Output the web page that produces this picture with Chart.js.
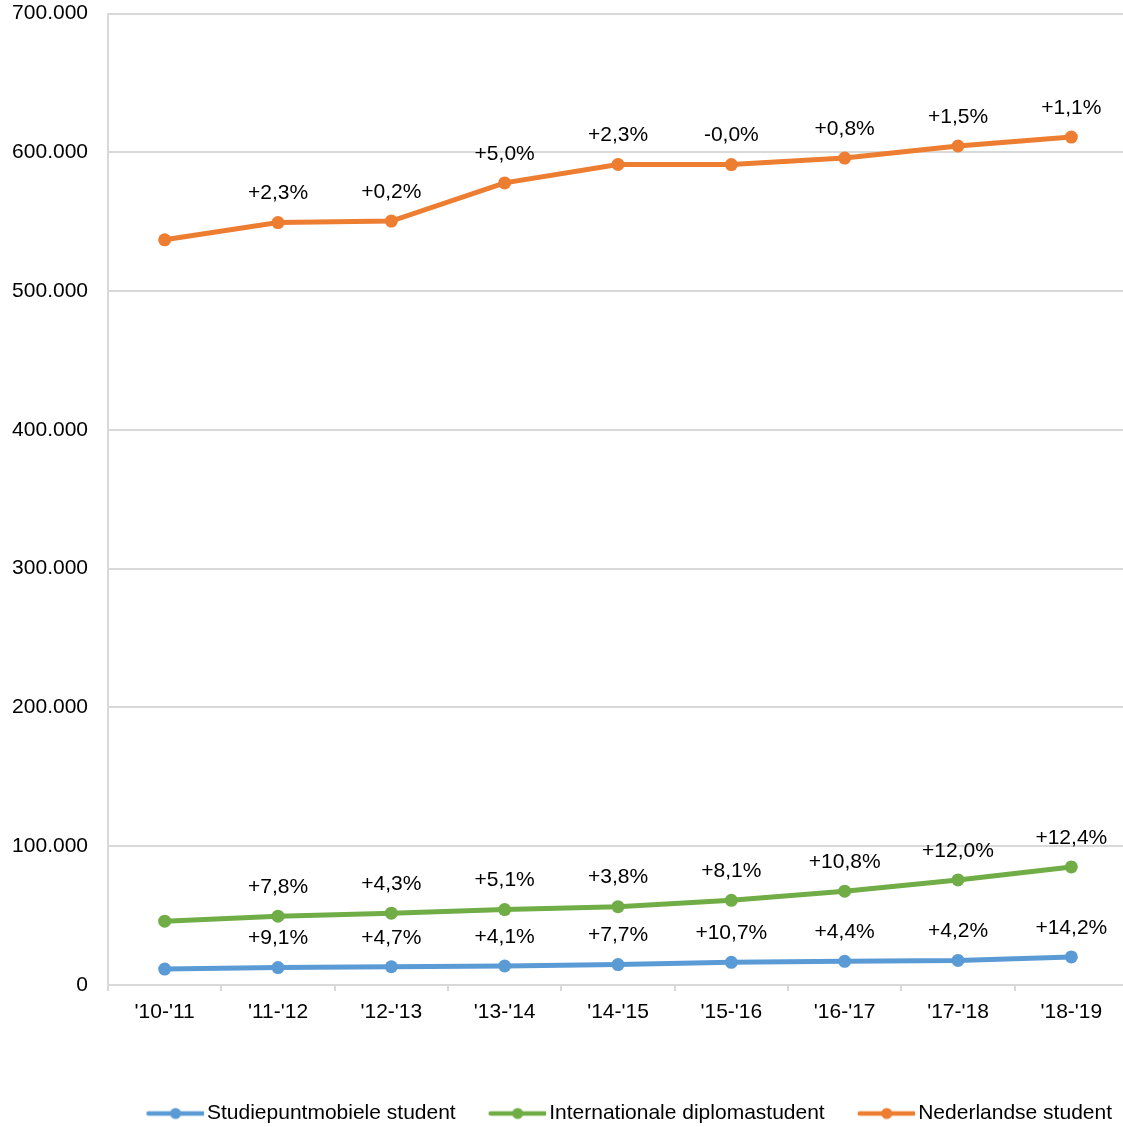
<!DOCTYPE html>
<html>
<head>
<meta charset="utf-8">
<script src="https://cdn.jsdelivr.net/npm/chart.js@4/dist/chart.umd.min.js"></script>
<style>
  html, body { margin: 0; padding: 0; background: #fff; overflow: hidden; }
  .chart-wrap { position: relative; width: 1145px; height: 1134px; }
</style>
</head>
<body>
<div class="chart-wrap"><canvas id="studenten"></canvas></div>
<script>
const years = ["'10-'11", "'11-'12", "'12-'13", "'13-'14", "'14-'15", "'15-'16", "'16-'17", "'17-'18", "'18-'19"];
const studiepuntmobiel = [11500, 12550, 13140, 13680, 14730, 16310, 17030, 17740, 20260];
const internationaal = [46000, 49600, 51730, 54370, 56430, 61000, 67590, 75700, 85090];
const nederlands = [537000, 549400, 550500, 578000, 591300, 591200, 595900, 604600, 611000];

const FONT = "'Liberation Sans', Arial, sans-serif";
const GRID = "#d9d9d9";

// 700000 -> "700.000"
const formatNL = (v) => String(v).replace(/\B(?=(\d{3})+(?!\d))/g, ".");

// legend icon: short line with a dot in the middle
function lineIcon(color) {
  const c = document.createElement("canvas");
  c.width = 64;
  c.height = 14;
  const ctx = c.getContext("2d");
  ctx.strokeStyle = color;
  ctx.lineWidth = 4.5;
  ctx.lineCap = "round";
  ctx.beginPath();
  ctx.moveTo(9, 7);
  ctx.lineTo(63, 7);
  ctx.stroke();
  ctx.fillStyle = color;
  ctx.beginPath();
  ctx.arc(36, 7, 5.5, 0, Math.PI * 2);
  ctx.fill();
  return c;
}

// year-on-year change written above each point
const groeiLabels = {
  id: "groeiLabels",
  afterDatasetsDraw(chart) {
    const ctx = chart.ctx;
    ctx.save();
    ctx.font = "21px " + FONT;
    ctx.fillStyle = "#000";
    ctx.textAlign = "center";
    ctx.textBaseline = "middle";
    chart.data.datasets.forEach((ds, di) => {
      const meta = chart.getDatasetMeta(di);
      meta.data.forEach((pt, i) => {
        if (i === 0) return;
        const pct = (ds.data[i] / ds.data[i - 1] - 1) * 100;
        const txt = (pct >= 0 ? "+" : "") + pct.toFixed(1).replace(".", ",") + "%";
        ctx.fillText(txt, pt.x, pt.y - 29);
      });
    });
    ctx.restore();
  }
};

const series = [
  { label: "Studiepuntmobiele student", data: studiepuntmobiel, color: "#5b9bd5" },
  { label: "Internationale diplomastudent", data: internationaal, color: "#70ad47" },
  { label: "Nederlandse student", data: nederlands, color: "#ed7d31" }
];

new Chart(document.getElementById("studenten"), {
  type: "line",
  data: {
    labels: years,
    datasets: series.map((s) => ({
      label: s.label,
      data: s.data,
      borderColor: s.color,
      backgroundColor: s.color,
      borderWidth: 5,
      pointRadius: 6.5,
      pointHoverRadius: 6.5,
      pointBorderWidth: 0,
      pointStyle: "circle",
      tension: 0,
      icon: lineIcon(s.color)
    }))
  },
  options: {
    responsive: true,
    maintainAspectRatio: false,
    animation: false,
    events: [],
    layout: { padding: 0 },
    scales: {
      x: {
        offset: true,
        grid: { display: true, drawOnChartArea: false, offset: true, tickLength: 6, color: GRID, lineWidth: 2 },
        border: { color: GRID, width: 2 },
        ticks: { color: "#000", font: { family: FONT, size: 21 }, padding: 9, maxRotation: 0 },
        afterFit(scale) { scale.height = 85; }
      },
      y: {
        min: 0,
        max: 700000,
        // invisible tick marks keep the labels away from the axis
        grid: { color: GRID, lineWidth: 2, drawTicks: true, tickLength: 19, tickColor: "rgba(0,0,0,0)" },
        border: { color: GRID, width: 2 },
        ticks: {
          stepSize: 100000,
          padding: 1,
          color: "#000",
          font: { family: FONT, size: 21 },
          callback: (v) => formatNL(v)
        },
        afterFit(scale) { scale.width = 108; }
      },
      // empty strip on the right so the plot keeps its width
      rand: {
        type: "linear",
        position: "right",
        display: true,
        grid: { display: false },
        border: { display: false },
        ticks: { display: false },
        afterFit(scale) { scale.width = 17; }
      }
    },
    plugins: {
      tooltip: { enabled: false },
      legend: {
        position: "bottom",
        align: "end",
        labels: {
          usePointStyle: true,
          pointStyleWidth: 50,
          padding: 33,
          color: "#000",
          font: { family: FONT, size: 21 },
          generateLabels(chart) {
            return chart.data.datasets.map((ds, i) => ({
              text: ds.label,
              pointStyle: ds.icon,
              fillStyle: ds.borderColor,
              strokeStyle: ds.borderColor,
              lineWidth: 0,
              fontColor: "#000",
              datasetIndex: i
            }));
          }
        }
      }
    }
  },
  plugins: [groeiLabels]
});
</script>
</body>
</html>
